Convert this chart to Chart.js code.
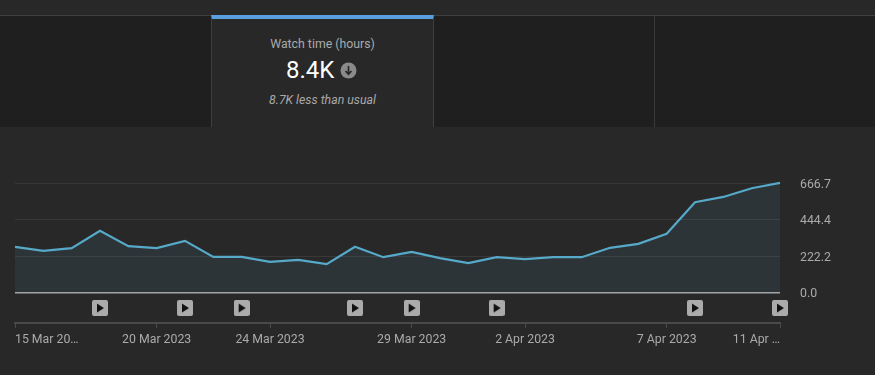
<!DOCTYPE html>
<html>
<head>
<meta charset="utf-8">
<title>Watch time (hours)</title>
<script src="https://cdn.jsdelivr.net/npm/chart.js@4/dist/chart.umd.min.js"></script>
<style>
  html, body { margin: 0; padding: 0; background: #282828; }
  body { width: 875px; height: 375px; overflow: hidden; position: relative; font-family: Roboto, sans-serif; }
  .tabs { position: absolute; left: 0; top: 15px; width: 875px; height: 112px; background: #1f1f1f; border-top: 1px solid #3f3f3f; box-sizing: border-box; }
  .tab-on { position: absolute; left: 211px; top: -1px; width: 223px; height: 112px; background: #282828; box-sizing: border-box; border-left: 1px solid #3f3f3f; border-right: 1px solid #3f3f3f; border-top: 4px solid #5a9ee0; text-align: center; }
  .divider { position: absolute; left: 654px; top: 0; width: 1px; height: 111px; background: #3a3a3a; }
  .tab-title { position: absolute; left: 0; right: 0; top: 18px; font-size: 12.3px; line-height: 14px; color: #aaa; }
  .tab-value { position: absolute; left: 74px; top: 37px; font-size: 24px; line-height: 28px; color: #fff; }
  .tab-icon { position: absolute; left: 128px; top: 43px; width: 17px; height: 17px; }
  .tab-note { position: absolute; left: 0; right: 0; top: 74px; font-size: 12.3px; line-height: 14px; font-style: italic; color: #aaa; }
  #chart-wrap { position: absolute; left: 0; top: 127px; width: 875px; height: 248px; }
</style>
</head>
<body>
<div class="tabs">
  <div class="tab-on">
    <div class="tab-title">Watch time (hours)</div>
    <div class="tab-value">8.4K</div>
    <svg class="tab-icon" viewBox="0 0 17 17">
      <circle cx="8.5" cy="8.5" r="8" fill="#8a8a8a"/>
      <path d="M8.5 4v8M5.5 9l3 3.2 3-3.2" stroke="#282828" stroke-width="1.7" fill="none"/>
    </svg>
    <div class="tab-note">8.7K less than usual</div>
  </div>
  <div class="divider"></div>
</div>
<div id="chart-wrap"><canvas id="chart" width="875" height="248"></canvas></div>

<script>
const days = [
  '15 Mar 2023', '16 Mar 2023', '17 Mar 2023', '18 Mar 2023', '19 Mar 2023', '20 Mar 2023', '21 Mar 2023',
  '22 Mar 2023', '23 Mar 2023', '24 Mar 2023', '25 Mar 2023', '26 Mar 2023', '27 Mar 2023', '28 Mar 2023',
  '29 Mar 2023', '30 Mar 2023', '31 Mar 2023', '1 Apr 2023', '2 Apr 2023', '3 Apr 2023', '4 Apr 2023',
  '5 Apr 2023', '6 Apr 2023', '7 Apr 2023', '8 Apr 2023', '9 Apr 2023', '10 Apr 2023', '11 Apr 2023'
];
const watchHours = [
  279, 254, 271, 376, 283, 271, 315, 218, 218, 188, 200, 174, 279, 216,
  248, 210, 180, 216, 204, 216, 216, 273, 297, 358, 550, 582, 635, 667
];
const xTickDays = ['15 Mar 2023', '20 Mar 2023', '24 Mar 2023', '29 Mar 2023', '2 Apr 2023', '7 Apr 2023', '11 Apr 2023'];
const xTickLabels = ['15 Mar 20…', '20 Mar 2023', '24 Mar 2023', '29 Mar 2023', '2 Apr 2023', '7 Apr 2023', '11 Apr …'];
const yTicks = [0, 222.2, 444.4, 666.7];
const yTickLabels = ['0.0', '222.2', '444.4', '666.7'];
const videoDays = ['18 Mar 2023', '21 Mar 2023', '23 Mar 2023', '27 Mar 2023', '29 Mar 2023', '1 Apr 2023', '8 Apr 2023', '11 Apr 2023'];
const videoLevel = -93;   // marker row sits below the zero line
const yFloor = -184;

// grey rounded square with a play triangle, used as point style
function playIcon() {
  const c = document.createElement('canvas');
  c.width = 16; c.height = 16;
  const g = c.getContext('2d');
  g.fillStyle = '#ababab';
  g.beginPath();
  g.roundRect(0, 0, 16, 16, 2);
  g.fill();
  g.fillStyle = '#111';
  g.beginPath();
  g.moveTo(5, 3.5);
  g.lineTo(12, 8);
  g.lineTo(5, 12.5);
  g.closePath();
  g.fill();
  return c;
}

new Chart(document.getElementById('chart'), {
  type: 'line',
  data: {
    labels: days,
    datasets: [
      {
        data: watchHours,
        borderColor: '#56a9c9',
        backgroundColor: 'rgba(86,169,201,.10)',
        borderWidth: 2.2,
        pointRadius: 0,
        fill: 'origin',
        tension: 0,
        clip: false,
      },
      {
        data: videoDays.map(d => ({ x: d, y: videoLevel })),
        showLine: false,
        pointStyle: playIcon(),
        pointRadius: 8,
        clip: false,
      }
    ]
  },
  options: {
    responsive: false,
    animation: false,
    layout: { padding: { left: 15, right: 0, top: 56, bottom: 0 } },
    plugins: { legend: { display: false }, tooltip: { enabled: false } },
    scales: {
      x: {
        afterBuildTicks: s => { s.ticks = xTickDays.map(d => ({ value: days.indexOf(d) })); },
        afterFit: s => { s.height = 52; },
        grid: { drawOnChartArea: false, tickLength: 5, tickColor: '#4a4a4a', tickWidth: 1 },
        border: { color: '#4a4a4a', width: 2 },
        ticks: {
          autoSkip: false,
          maxRotation: 0,
          align: 'inner',
          padding: 5,
          color: '#aaa',
          font: { family: 'Roboto', size: 12.3 },
          callback: (v, i) => xTickLabels[i],
        },
      },
      y: {
        position: 'right',
        min: yFloor,
        max: 666.7,
        afterBuildTicks: s => { s.ticks = yTicks.map(v => ({ value: v })); },
        afterFit: s => { s.width = 95; },
        grid: {
          drawTicks: false,
          color: c => (c.tick && c.tick.value === 0 ? '#a5a5a5' : '#383838'),
          lineWidth: c => (c.tick && c.tick.value === 0 ? 1.5 : 1),
        },
        border: { display: false },
        ticks: {
          padding: 20,
          crossAlign: 'near',
          color: '#aaa',
          font: { family: 'Roboto', size: 12.3, lineHeight: '3px' },
          // blank first line pushes the label down a little, as in the reference
          callback: (v, i) => ['', yTickLabels[i]],
        },
      }
    }
  }
});
</script>
</body>
</html>
